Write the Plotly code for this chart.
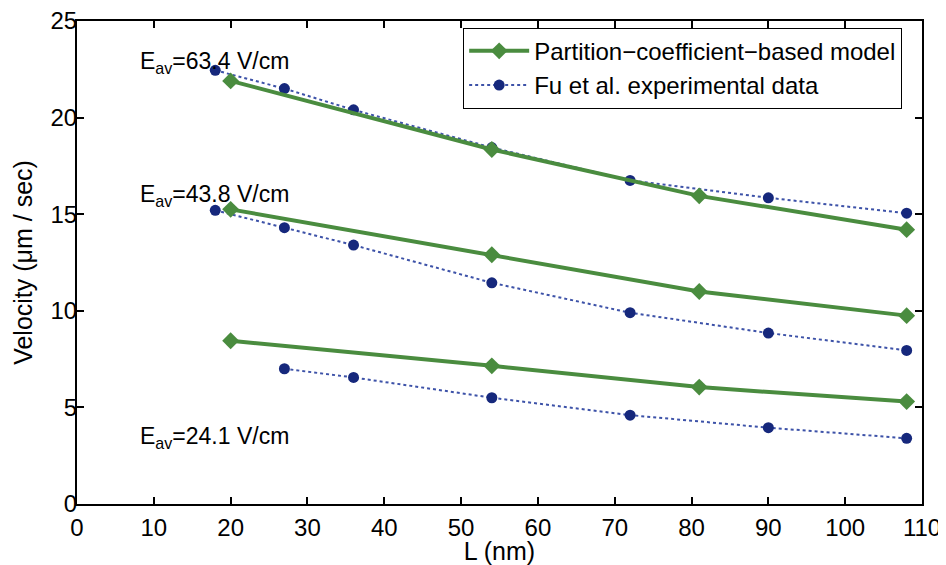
import plotly.graph_objects as go

# ---- data ----
model_L = [20, 54, 81, 108]
model_63 = [21.9, 18.35, 15.95, 14.2]
model_43 = [15.25, 12.9, 11.0, 9.75]
model_24 = [8.45, 7.15, 6.05, 5.3]

exp_L_hi = [18, 27, 36, 54, 72, 90, 108]
exp_63 = [22.45, 21.5, 20.4, 18.45, 16.75, 15.85, 15.05]
exp_43 = [15.2, 14.3, 13.4, 11.45, 9.9, 8.85, 7.95]
exp_L_lo = [27, 36, 54, 72, 90, 108]
exp_24 = [7.0, 6.55, 5.5, 4.6, 3.95, 3.4]

field_labels = ["E<sub>av</sub>=63.4 V/cm", "E<sub>av</sub>=43.8 V/cm", "E<sub>av</sub>=24.1 V/cm"]
field_label_y = [22.85, 15.95, 3.42]
field_label_x = [8.0, 8.0, 8.0]

x_ticks = list(range(0, 111, 10))
y_ticks = list(range(0, 26, 5))

GREEN = "#4a8c3f"
NAVY = "#16287c"
DOTBLUE = "#3d52a8"
FONT = "Liberation Sans, Arial, Helvetica, sans-serif"

fig = go.Figure()

exp_sets = [(exp_L_hi, exp_63), (exp_L_hi, exp_43), (exp_L_lo, exp_24)]
model_sets = [model_63, model_43, model_24]

for i, (xs, ys) in enumerate(exp_sets):
    fig.add_trace(go.Scatter(
        x=xs, y=ys, mode="lines+markers",
        name="Fu et al. experimental data",
        showlegend=False,
        line=dict(color=DOTBLUE, width=2, dash="dot"),
        marker=dict(symbol="circle", size=11, color=NAVY),
    ))

for i, ys in enumerate(model_sets):
    fig.add_trace(go.Scatter(
        x=model_L, y=ys, mode="lines+markers",
        name="Partition\u2212coefficient\u2212based model",
        showlegend=(i == 0),
        legendrank=1,
        line=dict(color=GREEN, width=4),
        marker=dict(symbol="diamond", size=13, color=GREEN),
    ))

fig.add_trace(go.Scatter(
    x=[None], y=[None], mode="lines+markers",
    name="Fu et al. experimental data",
    legendrank=2,
    line=dict(color=DOTBLUE, width=2, dash="dot"),
    marker=dict(symbol="circle", size=11, color=NAVY),
))

for txt, xv, yv in zip(field_labels, field_label_x, field_label_y):
    fig.add_annotation(x=xv, y=yv, text=txt, showarrow=False,
                       xanchor="left", yanchor="middle",
                       font=dict(size=23, color="black", family=FONT))

axis_common = dict(
    showline=True, linecolor="black", linewidth=2,
    mirror="ticks", ticks="inside", ticklen=7, tickwidth=2, tickcolor="black",
    showgrid=False, zeroline=False, automargin=False,
    ticklabeloverflow="allow",
    tickfont=dict(size=24, color="black", family=FONT),
)

fig.update_xaxes(range=[0, 110], tickvals=x_ticks, ticktext=[str(v) for v in x_ticks],
                 title=dict(text="L (nm)", font=dict(size=25, color="black", family=FONT), standoff=6),
                 ticklabelstandoff=1, **axis_common)
fig.update_yaxes(range=[0, 25], tickvals=y_ticks, ticktext=[str(v) for v in y_ticks],
                 title=dict(text="Velocity (\u03bcm / sec)", font=dict(size=25, color="black", family=FONT), standoff=11),
                 ticklabelstandoff=-7, **axis_common)

# the page body adds an 8px margin, so the figure is sized/offset to compensate
fig.update_layout(
    width=938, height=557,
    margin=dict(l=69, r=24, t=13, b=61),
    plot_bgcolor="white", paper_bgcolor="white",
    font=dict(family=FONT, color="black"),
    legend=dict(
        x=0.457, y=0.986, xanchor="left", yanchor="top",
        bgcolor="white", bordercolor="black", borderwidth=1,
        font=dict(size=24, color="black", family=FONT),
        tracegroupgap=0, itemwidth=60,
    ),
)

fig.write_html("out.html")
